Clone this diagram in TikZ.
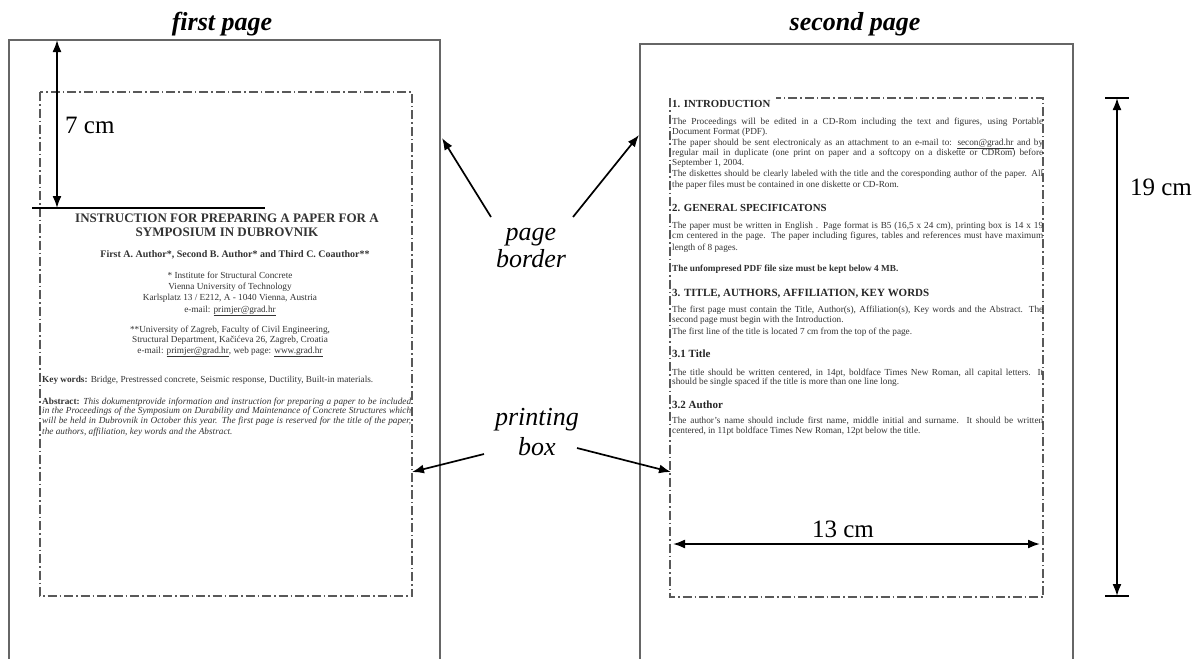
\documentclass[tikz,border=0pt]{standalone}
\usepackage{fontspec}
\setmainfont{Liberation Serif}
\usetikzlibrary{arrows.meta}
\begin{document}
\begin{tikzpicture}[x=1pt,y=-1pt,
  pageborder/.style={draw=black!60, line width=1.3pt},
  printbox/.style={draw=black!65, line width=1.4pt, dash pattern=on 9pt off 3pt on 1.5pt off 3pt},
  dimarrow/.style={line width=1.8pt, {Latex[length=12pt,width=9pt]}-{Latex[length=12pt,width=9pt]}},
  callout/.style={line width=1.7pt, -{Latex[length=12pt,width=9pt]}},
  lbl/.style={font=\fontsize{26}{28}\selectfont\itshape, inner sep=0pt, anchor=base},
  ttl/.style={font=\fontsize{26}{28}\selectfont\bfseries\itshape, inner sep=0pt, anchor=base},
  dimlbl/.style={font=\fontsize{25}{27}\selectfont, inner sep=0pt},
  body/.style={font=\fontsize{9.25}{10.5}\selectfont, text=black!80, inner sep=0pt, anchor=base west},
  bodyc/.style={font=\fontsize{9.25}{10.5}\selectfont, text=black!80, inner sep=0pt, anchor=base},
  head/.style={font=\fontsize{10.8}{12}\selectfont\bfseries, text=black!85, inner sep=0pt, anchor=base west},
  subhead/.style={font=\fontsize{11}{12}\selectfont\bfseries, text=black!85, inner sep=0pt, anchor=base west},
]
\useasboundingbox (0,0) rectangle (1203,659);
\fill[white] (0,0) rectangle (1203,659);

% ---------- page borders ----------
\draw[pageborder] (9,659) -- (9,40) -- (440,40) -- (440,659);
\draw[pageborder] (640,659) -- (640,44) -- (1073,44) -- (1073,659);

% ---------- printing boxes ----------
\draw[printbox] (40,92) rectangle (412,596);
\draw[printbox] (670,98) rectangle (1043,597);

% ---------- titles ----------
\node[ttl] (t1) at (222,30) {first page};
\node[ttl] (t2) at (855,30) {second page};

% ---------- first page content ----------
\node[font=\fontsize{13}{14}\selectfont\bfseries, text=black!80, inner sep=0pt, anchor=base] (f1) at (227,222) {INSTRUCTION FOR PREPARING A PAPER FOR A};
\node[font=\fontsize{13}{14}\selectfont\bfseries, text=black!80, inner sep=0pt, anchor=base] (f2) at (227,236) {SYMPOSIUM IN DUBROVNIK};
\node[font=\fontsize{10}{11}\selectfont\bfseries, text=black!80, inner sep=0pt, anchor=base] (f3) at (235,257) {First A. Author*, Second B. Author* and Third C. Coauthor**};
\node[bodyc] (f4) at (230,278) {* Institute for Structural Concrete};
\node[bodyc] (f5) at (230,289) {Vienna University of Technology};
\node[bodyc] (f6) at (230,300) {Karlsplatz 13 / E212, A - 1040 Vienna, Austria};
\node[bodyc] (f7) at (230,312) {e-mail: \underline{primjer@grad.hr}};
\node[bodyc] (f8) at (230,332) {**University of Zagreb, Faculty of Civil Engineering,};
\node[bodyc] (f9) at (230,342) {Structural Department, Kačićeva 26, Zagreb, Croatia};
\node[bodyc] (f10) at (230,353) {e-mail: \underline{primjer@grad.hr}, web page: \underline{www.grad.hr}};
\node[body] (f11) at (42,382) {\textbf{Key words:} Bridge, Prestressed concrete, Seismic response, Ductility, Built-in materials.};
\node[body] (f12) at (42,404) {\makebox[369pt][s]{\textbf{Abstract:} \textit{This dokumentprovide information and instruction for preparing a paper to be included}}};
\node[body] (f13) at (42,413) {\makebox[369pt][s]{\textit{in the Proceedings of the Symposium on Durability and Maintenance of Concrete Structures which}}};
\node[body] (f14) at (42,423) {\makebox[369pt][s]{\textit{will be held in Dubrovnik in October this year. The first page is reserved for the title of the paper,}}};
\node[body] (f15) at (42,434) {\textit{the authors, affiliation, key words and the Abstract.}};

% ---------- second page content ----------
\fill[white] (672,93) rectangle (776,103);
\node[head] (s1) at (672,107) {1. INTRODUCTION};
\node[body] (s2) at (672,124) {\makebox[371pt][s]{The Proceedings will be edited in a CD-Rom including the text and figures, using Portable}};
\node[body] (s3) at (672,134) {Document Format (PDF).};
\node[body] (s4) at (672,145) {\makebox[371pt][s]{The paper should be sent electronicaly as an attachment to an e-mail to: \underline{secon@grad.hr} and by}};
\node[body] (s5) at (672,155) {\makebox[371pt][s]{regular mail in duplicate (one print on paper and a softcopy on a diskette or CDRom) before}};
\node[body] (s6) at (672,165) {September 1, 2004.};
\node[body] (s7) at (672,176) {\makebox[371pt][s]{The diskettes should be clearly labeled with the title and the coresponding author of the paper. All}};
\node[body] (s8) at (672,187) {the paper files must be contained in one diskette or CD-Rom.};
\node[head] (s9) at (672,211) {2. GENERAL SPECIFICATONS};
\node[body] (s10) at (672,228) {\makebox[371pt][s]{The paper must be written in English . Page format is B5 (16,5 x 24 cm), printing box is 14 x 19}};
\node[body] (s11) at (672,238) {\makebox[371pt][s]{cm centered in the page. The paper including figures, tables and references must have maximum}};
\node[body] (s12) at (672,250) {length of 8 pages.};
\node[body, font=\fontsize{9.25}{10.5}\selectfont\bfseries] (s13) at (672,271) {The unfompresed PDF file size must be kept below 4 MB.};
\node[subhead] (s14) at (672,296) {3. TITLE, AUTHORS, AFFILIATION, KEY WORDS};
\node[body] (s15) at (672,312) {\makebox[371pt][s]{The first page must contain the Title, Author(s), Affiliation(s), Key words and the Abstract. The}};
\node[body] (s16) at (672,322) {second page must begin with the Introduction.};
\node[body] (s17) at (672,334) {The first line of the title is located 7 cm from the top of the page.};
\node[subhead] (s18) at (672,357) {3.1 Title};
\node[body] (s19) at (672,375) {\makebox[371pt][s]{The title should be written centered, in 14pt, boldface Times New Roman, all capital letters. It}};
\node[body] (s20) at (672,384) {should be single spaced if the title is more than one line long.};
\node[subhead] (s21) at (672,408) {3.2 Author};
\node[body] (s22) at (672,423) {\makebox[371pt][s]{The author's name should include first name, middle initial and surname. It should be written}};
\node[body] (s23) at (672,433) {centered, in 11pt boldface Times New Roman, 12pt below the title.};

% ---------- 7 cm dimension ----------
\coordinate (d7top) at (57,40);
\coordinate (d7bot) at (57,208);
\coordinate (t7l) at (32,208);
\coordinate (t7r) at (265,208);
\draw[line width=1.5pt] (t7l) -- (t7r);
\draw[dimarrow] (d7top) -- (d7bot);
\node[dimlbl, anchor=base west] (l7) at (65,133) {7 cm};

% ---------- 13 cm dimension ----------
\coordinate (d13l) at (673,544);
\coordinate (d13r) at (1040,544);
\draw[dimarrow] (d13l) -- (d13r);
\node[dimlbl, anchor=base] (l13) at (843,537) {13 cm};

% ---------- 19 cm dimension ----------
\coordinate (d19t) at (1117,98);
\coordinate (d19b) at (1117,596);
\draw[line width=1.5pt] (1105,98) -- (1129,98);
\draw[line width=1.5pt] (1105,596) -- (1129,596);
\draw[dimarrow] (d19t) -- (d19b);
\node[dimlbl, anchor=base east] (l19) at (1192,195) {19 cm};

% ---------- page border label ----------
\node[lbl] (pb1) at (531,240) {page};
\node[lbl] (pb2) at (531,267) {border};
\coordinate (pbs1) at (491,217);
\coordinate (pbe1) at (442,138);
\coordinate (pbs2) at (573,217);
\coordinate (pbe2) at (639,135);
\draw[callout] (pbs1) -- (pbe1);
\draw[callout] (pbs2) -- (pbe2);

% ---------- printing box label ----------
\node[lbl] (pr1) at (537,425) {printing};
\node[lbl] (pr2) at (537,455) {box};
\coordinate (prs1) at (484,454);
\coordinate (pre1) at (412,472);
\coordinate (prs2) at (577,448);
\coordinate (pre2) at (671,472);
\draw[callout] (prs1) -- (pre1);
\draw[callout] (prs2) -- (pre2);
\end{tikzpicture}
\end{document}
